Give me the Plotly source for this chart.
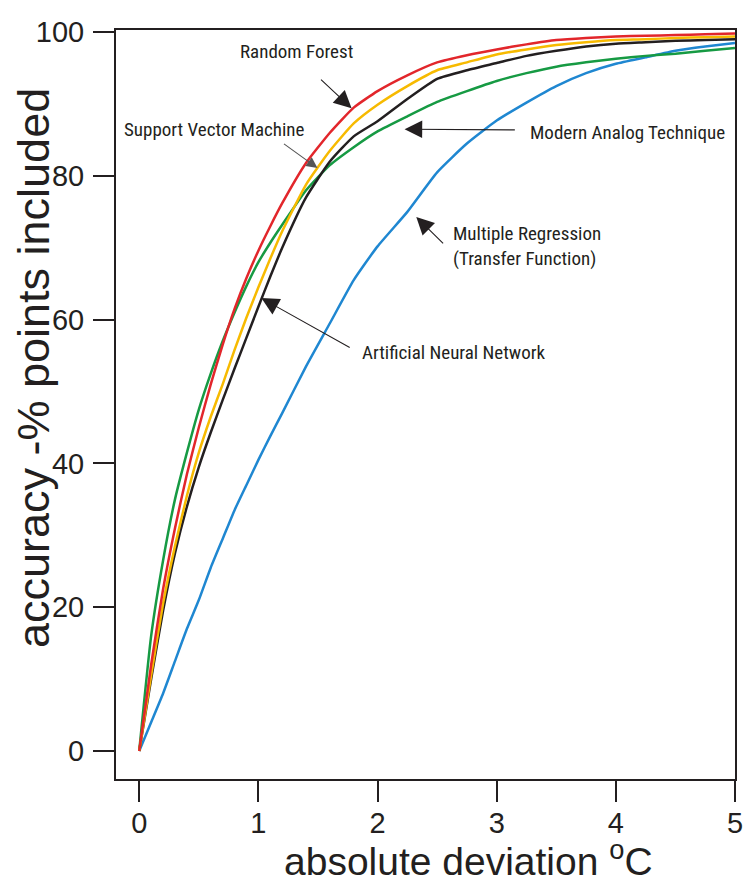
import plotly.graph_objects as go

x_dev = [0, 0.1, 0.2, 0.3, 0.4, 0.5, 0.6, 0.7, 0.8, 0.9, 1.0, 1.1, 1.2, 1.4, 1.6, 1.8, 2.0,
         2.25, 2.5, 2.75, 3.0, 3.25, 3.5, 3.75, 4.0, 4.25, 4.5, 4.75, 5.0]

random_forest = [0, 12, 22.5, 31, 38.5, 45, 51, 56.5, 61.5, 65.8, 69.6, 73, 76.2, 81.8, 86, 89.5, 91.8,
                 94, 95.8, 96.8, 97.6, 98.3, 98.9, 99.2, 99.4, 99.5, 99.6, 99.7, 99.8]
svm = [0, 10.5, 20.5, 28.5, 35.5, 41.5, 46.5, 51, 55.8, 60.3, 64.5, 68.5, 72.3, 78.8, 83.5, 87.3, 89.9,
       92.5, 94.7, 95.8, 96.9, 97.6, 98.2, 98.6, 98.9, 99.0, 99.2, 99.3, 99.4]
ann = [0, 10, 19.5, 27.5, 34, 39.5, 44.3, 48.8, 53.2, 57.5, 61.8, 66, 70, 77, 82, 85.5, 87.6,
       90.7, 93.5, 94.7, 95.7, 96.7, 97.4, 98, 98.4, 98.6, 98.8, 98.9, 99]
mat = [0, 16, 26.5, 35, 41.5, 47.5, 52.5, 57, 61, 64.7, 68, 70.7, 73.2, 78, 81.5, 84, 86.2,
       88.3, 90.3, 91.8, 93.2, 94.3, 95.2, 95.8, 96.3, 96.7, 97, 97.4, 97.8]
mlr = [0, 4, 8, 12.5, 17, 21, 25.5, 29.5, 33.5, 37, 40.5, 43.8, 47, 53.5, 59.5, 65.5, 70.2,
       75, 80.5, 84.5, 87.7, 90.2, 92.5, 94.3, 95.6, 96.5, 97.4, 98, 98.5]

x_ticks = [0, 1, 2, 3, 4, 5]
y_ticks = [0, 20, 40, 60, 80, 100]

series = [
    ("Multiple Regression", mlr, "#1F87D1"),
    ("Modern Analog Technique", mat, "#169A43"),
    ("Artificial Neural Network", ann, "#231F20"),
    ("Support Vector Machine", svm, "#F7BA00"),
    ("Random Forest", random_forest, "#E2262B"),
]

fig = go.Figure()
for name, vals, col in series:
    fig.add_trace(go.Scatter(x=x_dev, y=vals, mode="lines", name=name,
                             line=dict(color=col, width=2.5, shape="spline", smoothing=0.5)))

label_font = dict(family="Liberation Sans Narrow, Arial Narrow, Roboto Condensed, Roboto, sans-serif",
                  size=19, color="#231F20")

# text labels (left-anchored)
labels = [
    ("Random Forest", 0.832, 97.3),
    ("Support Vector Machine", -0.143, 86.5),
    ("Modern Analog Technique", 3.261, 86.0),
    ("Multiple Regression<br>(Transfer Function)", 2.613, 70.2),
    ("Artificial Neural Network", 1.849, 55.5),
]
for txt, lx, ly in labels:
    fig.add_annotation(x=lx, y=ly, xref="x", yref="y", text=txt, showarrow=False,
                       xanchor="left", yanchor="middle", align="left", font=label_font)

# arrows: (tip_x, tip_y, tail_x, tail_y, size, color)
arrows = [
    (1.782, 89.4, 1.513, 93.6, 3.2, "#231F20"),
    (1.496, 81.1, 1.202, 84.6, 2.0, "#555555"),
    (2.227, 86.5, 3.165, 86.4, 3.2, "#231F20"),
    (2.325, 74.3, 2.563, 70.4, 3.2, "#231F20"),
    (1.025, 63.0, 1.779, 56.0, 3.2, "#231F20"),
]
for tx, ty, ax_, ay_, sz, col in arrows:
    fig.add_annotation(x=tx, y=ty, ax=ax_, ay=ay_, xref="x", yref="y", axref="x", ayref="y",
                       text="", showarrow=True, arrowhead=2, arrowsize=sz, arrowwidth=1.1,
                       arrowcolor=col)

# axis titles
fig.add_annotation(x=0.570, y=-0.1065, xref="paper", yref="paper",
                   text="absolute deviation <sup>o</sup>C", showarrow=False,
                   xanchor="center", yanchor="middle",
                   font=dict(family="Liberation Sans, Arial, sans-serif", size=39, color="#231F20"))
fig.add_annotation(x=-0.134, y=0.5487, xref="paper", yref="paper",
                   text="accuracy -% points included", showarrow=False, textangle=-90,
                   xanchor="center", yanchor="middle",
                   font=dict(family="Liberation Sans, Arial, sans-serif", size=45, color="#231F20"))

axis_common = dict(showline=True, linecolor="#231F20", linewidth=2, mirror=True,
                   ticks="outside", ticklen=21, tickwidth=2, tickcolor="#231F20",
                   showgrid=False, zeroline=False, automargin=False,
                   tickfont=dict(family="Liberation Sans, Arial, sans-serif", size=29, color="#231F20"))

fig.update_layout(
    width=745, height=876,
    margin=dict(l=116, r=10, t=30, b=97, autoexpand=False),
    paper_bgcolor="white", plot_bgcolor="white",
    showlegend=False,
    xaxis=dict(range=[-0.195, 5], tickvals=x_ticks, ticklabelstandoff=-4, **axis_common),
    yaxis=dict(range=[-3.9, 100.3], tickvals=y_ticks, ticklabelstandoff=3, **axis_common),
)

fig.write_html("out.html")
